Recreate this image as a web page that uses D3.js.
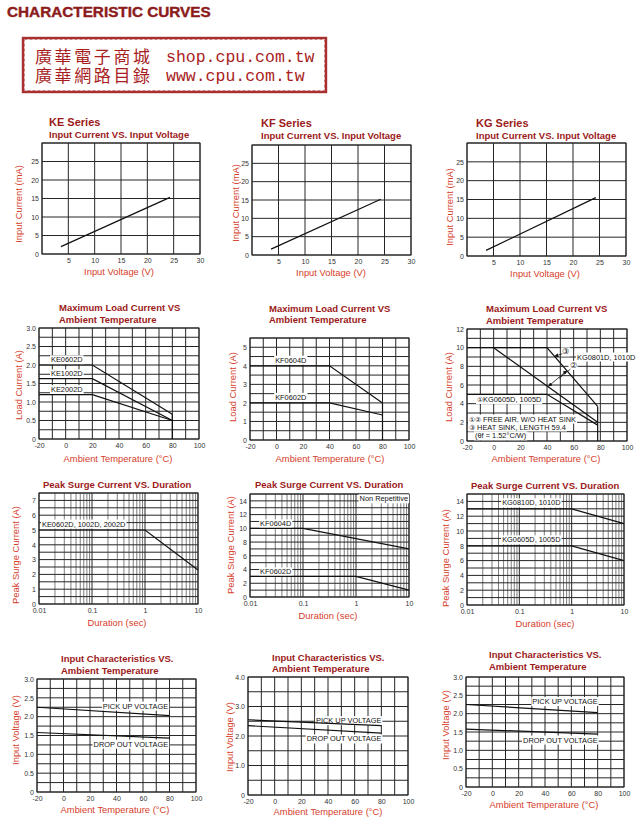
<!DOCTYPE html>
<html>
<head>
<meta charset="utf-8">
<script src="https://cdn.jsdelivr.net/npm/d3@7"></script>
<style>
  body { margin: 0; background: #fff; }
  svg { display: block; }
</style>
</head>
<body>
<div id="chart"></div>
<script>
// ---- values ----
// row 1: input current (mA) vs input voltage (V)
const inputVolt = [3.6, 24.3];
const keInputCurrent = [2.0, 15.3];
const kfInputCurrent = [1.6, 15.2];
const kgInputCurrent = [1.5, 15.5];

// row 2: max load current (A) vs ambient temperature (C)
const keLoadTemp = [-20, 20, 80];
const ke0602Load = [2.0, 2.0, 0.67];
const ke1002Load = [1.63, 1.63, 0.5];
const ke2002Load = [1.2, 1.2, 0.5];
const kfLoadTemp = [-20, 40, 80];
const kf0604Load = [4, 4, 2];
const kf0602Load = [2, 2, 1.35];
const kgHeatSinkTemp = [-20, 40, 78];
const kgHeatSinkLoad = [10, 10, 3.7];   // (3) KG0801D, 1010D with heat sink
const kgFreeAir10Temp = [0, 78];
const kgFreeAir10Load = [10, 2.0];      // (2) KG0801D, 1010D free air
const kgFreeAir05Temp = [-20, 40, 78];
const kgFreeAir05Load = [5, 5, 1.7];    // (1) KG0605D, 1005D

// row 3: peak surge current (A) vs duration (sec)
const keSurgeDur = [0.01, 1, 10];
const keSurge = [5, 5, 2.3];
const kf0604SurgeDur = [0.01, 0.1, 10];
const kf0604Surge = [10, 10, 7];
const kf0602SurgeDur = [0.01, 1, 10];
const kf0602Surge = [3, 3, 1.0];
const kgSurgeDur = [0.01, 1, 10];
const kg1010Surge = [13, 13, 11];
const kg1005Surge = [8, 8, 6];

// row 4: input voltage (V) vs ambient temperature (C)
const icTemp = [-20, 80];
const kePickUp = [2.25, 2.03];
const keDropOut = [1.58, 1.43];
const kfPickUp = [2.55, 2.35];
const kfDropOut = [2.35, 2.1];
const kgPickUp = [2.25, 2.03];
const kgDropOut = [1.58, 1.44];

// tick labels
const voltTicks = [5, 10, 15, 20, 25, 30];
const mATicks = [0, 5, 10, 15, 20, 25];
const tempTicks = [-20, 0, 20, 40, 60, 80, 100];
const halfAmpTicks = [0, 0.5, 1.0, 1.5, 2.0, 2.5, 3.0];
const kfLoadTicks = [0, 1, 2, 3, 4, 5];
const kgLoadTicks = [0, 2, 4, 6, 8, 10, 12];
const durTicks = [0.01, 0.1, 1, 10];
const keSurgeTicks = [0, 1, 2, 3, 4, 5, 6, 7];
const surgeTicks = [0, 2, 4, 6, 8, 10, 12, 14];
const kfVoltTicks = [0, 1.0, 2.0, 3.0, 4.0];

// ---- styles ----
const FONT = "Liberation Sans, Arial, sans-serif";
const TITLE = "#9c1a1a";
const AXIS = "#d6402b";
const GRID = "#262626";

const svg = d3.select("#chart").append("svg")
    .attr("width", 640)
    .attr("height", 827);

svg.append("defs").append("marker")
    .attr("id", "ah")
    .attr("viewBox", "0 0 6 6")
    .attr("refX", 6).attr("refY", 3)
    .attr("markerWidth", 5).attr("markerHeight", 5)
    .attr("orient", "auto-start-reverse")
    .append("path").attr("d", "M0,0 L6,3 L0,6 z").attr("fill", "#111");

// --- header + stamp ---
svg.append("text")
    .attr("x", 7).attr("y", 17)
    .attr("font-family", FONT).attr("font-weight", "bold").attr("font-size", 15.3)
    .attr("fill", "#8c1b1b").attr("stroke", "#8c1b1b").attr("stroke-width", 0.4)
    .text("CHARACTERISTIC CURVES");

svg.append("rect")
    .attr("x", 23).attr("y", 38).attr("width", 303).attr("height", 54)
    .attr("fill", "none").attr("stroke", "#a83030").attr("stroke-width", 2.4);
svg.append("rect")
    .attr("x", 24.5).attr("y", 39.5).attr("width", 300).attr("height", 51)
    .attr("fill", "none").attr("stroke", "#c26a6a").attr("stroke-width", 0.8)
    .attr("stroke-dasharray", "3 2");

const stampZh = ["廣華電子商城", "廣華網路目錄"];
const stampUrl = ["shop.cpu.com.tw", "www.cpu.com.tw"];
svg.append("text")
    .attr("font-family", "Noto Sans CJK TC").attr("font-size", 17)
    .attr("letter-spacing", 2.6).attr("fill", "#a81d1d")
    .selectAll("tspan").data(stampZh).join("tspan")
    .attr("x", 35).attr("y", (d, i) => 63 + i * 19)
    .text(d => d);
svg.append("text")
    .attr("font-family", "Liberation Mono, DejaVu Sans Mono, monospace").attr("font-size", 16.5)
    .attr("fill", "#a81d1d")
    .selectAll("tspan").data(stampUrl).join("tspan")
    .attr("x", 166).attr("y", (d, i) => 62 + i * 19)
    .text(d => d);

// --- helpers ---
const panel = (p) => {
    const g = svg.append("g");
    const x = (p.log ? d3.scaleLog() : d3.scaleLinear()).domain(p.xDom).range(p.xr);
    const y = d3.scaleLinear().domain(p.yDom).range(p.yr);

    const xGrid = p.log ? x.ticks() : d3.range(p.xDom[0], p.xDom[1] + 1e-9, p.xStep);
    const yGrid = d3.range(p.yDom[0], p.yDom[1] + 1e-9, p.yStep);

    const grid = g.append("g").attr("stroke-width", 1);
    grid.selectAll(".gx").data(xGrid).join("line").attr("class", "gx")
        .attr("x1", d => x(d)).attr("x2", d => x(d))
        .attr("y1", p.yr[0]).attr("y2", p.yr[1])
        .attr("stroke", d => p.log && Math.abs(Math.log10(d) % 1) > 1e-6 ? "#7d7d7d" : GRID);
    grid.selectAll(".gy").data(yGrid).join("line").attr("class", "gy")
        .attr("x1", p.xr[0]).attr("x2", p.xr[1])
        .attr("y1", d => y(d)).attr("y2", d => y(d))
        .attr("stroke", GRID);

    g.append("g").attr("transform", `translate(0,${p.yr[0]})`)
        .call(d3.axisBottom(x).tickValues(p.xTicks).tickSize(0).tickPadding(4)
            .tickFormat(p.xFmt || (d => d)));
    g.append("g").attr("transform", `translate(${p.xr[0]},0)`)
        .call(d3.axisLeft(y).tickValues(p.yTicks).tickSize(0).tickPadding(3)
            .tickFormat(p.yFmt || (d => d)));
    g.selectAll(".domain").remove();
    g.selectAll(".tick text")
        .attr("font-family", FONT).attr("font-size", 7).attr("fill", "#333");

    g.append("rect")
        .attr("x", p.xr[0]).attr("y", p.yr[1])
        .attr("width", p.xr[1] - p.xr[0]).attr("height", p.yr[0] - p.yr[1])
        .attr("fill", "none").attr("stroke", GRID).attr("stroke-width", 1);

    // titles
    p.title.forEach((t, i) => {
        svg.append("text").attr("x", p.tx).attr("y", p.ty[i])
            .attr("font-family", FONT).attr("font-weight", "bold")
            .attr("font-size", t.size || 9.5).attr("fill", TITLE).text(t.text);
    });
    // axis labels
    svg.append("text").attr("x", p.xl[0]).attr("y", p.xl[1])
        .attr("text-anchor", "middle").attr("dominant-baseline", "central")
        .attr("font-family", FONT).attr("font-size", 9.4).attr("fill", AXIS).text(p.xLabel);
    svg.append("text")
        .attr("transform", `translate(${p.yl[0]},${p.yl[1]}) rotate(-90)`)
        .attr("text-anchor", "middle").attr("dominant-baseline", "central")
        .attr("font-family", FONT).attr("font-size", 9.4).attr("fill", AXIS).text(p.yLabel);

    return { g, x, y };
};

const curve = (pn, xs, ys) => {
    pn.g.append("path")
        .datum(d3.zip(xs, ys))
        .attr("d", d3.line().x(d => pn.x(d[0])).y(d => pn.y(d[1])))
        .attr("fill", "none").attr("stroke", "#111").attr("stroke-width", 1.2);
};

const tag = (pn, xv, yv, text, anchor = "start", size = 7.4) => {
    const t = pn.g.append("text")
        .attr("x", pn.x(xv)).attr("y", pn.y(yv))
        .attr("text-anchor", anchor).attr("dominant-baseline", "central")
        .attr("font-family", FONT).attr("font-size", size).attr("fill", "#111")
        .text(text);
    const b = t.node().getBBox();
    pn.g.insert("rect", () => t.node())
        .attr("x", b.x - 1).attr("y", b.y).attr("width", b.width + 2).attr("height", b.height)
        .attr("fill", "#fff");
};

const oneDec = d => d === 0 ? "0" : d3.format(".1f")(d);

// ---- row 1 ----
const row1 = (xr, yr, tx, ty, xl, yl, name) => panel({
    xr, yr, xDom: [0, 30], yDom: [0, 30], xStep: 5, yStep: 5,
    xTicks: voltTicks, yTicks: mATicks,
    title: [{ text: name, size: 11 }, { text: "Input Current VS. Input Voltage" }],
    tx, ty, xl, yl, xLabel: "Input Voltage (V)", yLabel: "Input Current (mA)"
});
const keIn = row1([42, 200], [254, 143], 49, [126, 138], [119, 271], [18, 204], "KE Series");
curve(keIn, inputVolt, keInputCurrent);
const kfIn = row1([252, 411], [255, 145], 261, [127, 139], [331, 272], [235, 203], "KF Series");
curve(kfIn, inputVolt, kfInputCurrent);
const kgIn = row1([467, 626], [256, 143], 476, [127, 139], [545, 273], [449, 207], "KG Series");
curve(kgIn, inputVolt, kgInputCurrent);

// ---- row 2 ----
const loadTitle = [{ text: "Maximum Load Current VS" }, { text: "Ambient Temperature" }];
const keLoad = panel({
    xr: [39, 199], yr: [439, 328], xDom: [-20, 100], yDom: [0, 3], xStep: 10, yStep: 0.25,
    xTicks: tempTicks, yTicks: halfAmpTicks, yFmt: oneDec,
    title: loadTitle, tx: 59, ty: [311, 323], xl: [118, 458], yl: [18, 385],
    xLabel: "Ambient Temperature (°C)", yLabel: "Load Current (A)"
});
tag(keLoad, -11, 2.14, "KE0602D");
tag(keLoad, -11, 1.76, "KE1002D");
tag(keLoad, -11, 1.33, "KE2002D");
curve(keLoad, keLoadTemp, ke0602Load);
curve(keLoad, keLoadTemp, ke1002Load);
curve(keLoad, keLoadTemp, ke2002Load);
curve(keLoad, [keLoadTemp[2], keLoadTemp[2]], [ke0602Load[2], 0]);

const kfLoad = panel({
    xr: [250, 409], yr: [440, 338], xDom: [-20, 100], yDom: [0, 5.5], xStep: 10, yStep: 0.5,
    xTicks: tempTicks, yTicks: kfLoadTicks,
    title: loadTitle, tx: 269, ty: [312, 323], xl: [330, 458], yl: [232, 387],
    xLabel: "Ambient Temperature (°C)", yLabel: "Load Current (A)"
});
tag(kfLoad, -1, 4.3, "KF0604D");
tag(kfLoad, -1, 2.3, "KF0602D");
curve(kfLoad, kfLoadTemp, kf0604Load);
curve(kfLoad, kfLoadTemp, kf0602Load);
curve(kfLoad, [kfLoadTemp[2], kfLoadTemp[2]], [kf0604Load[2], 0]);

const kgLoad = panel({
    xr: [467, 627], yr: [441, 329], xDom: [-20, 100], yDom: [0, 12], xStep: 10, yStep: 1,
    xTicks: tempTicks, yTicks: kgLoadTicks,
    title: loadTitle, tx: 486, ty: [312, 324], xl: [546, 458], yl: [448, 387],
    xLabel: "Ambient Temperature (°C)", yLabel: "Load Current (A)"
});
tag(kgLoad, -12.5, 4.45, "\u2460KG0605D, 1005D");
tag(kgLoad, -18.5, 2.35, "\u2460\u2461 FREE AIR, W/O HEAT SINK");
tag(kgLoad, -18.5, 1.5, "\u2462 HEAT SINK, LENGTH 59.4");
tag(kgLoad, -14, 0.55, "(\u03b8f = 1.52°C/W)");
tag(kgLoad, 62.5, 9.0, "KG0801D, 1010D");
tag(kgLoad, 54, 9.55, "\u2462", "middle", 8);
tag(kgLoad, 59.5, 8.1, "\u2461", "middle", 8);
curve(kgLoad, kgHeatSinkTemp, kgHeatSinkLoad);
curve(kgLoad, kgFreeAir10Temp, kgFreeAir10Load);
curve(kgLoad, kgFreeAir05Temp, kgFreeAir05Load);
curve(kgLoad, [kgHeatSinkTemp[2], kgHeatSinkTemp[2]], [kgHeatSinkLoad[2], 0]);
// leader arrows
kgLoad.g.append("line")
    .attr("x1", kgLoad.x(51.5)).attr("y1", kgLoad.y(9.35))
    .attr("x2", kgLoad.x(45.5)).attr("y2", kgLoad.y(9.05))
    .attr("stroke", "#111").attr("stroke-width", 0.8).attr("marker-end", "url(#ah)");
kgLoad.g.append("line")
    .attr("x1", kgLoad.x(55)).attr("y1", kgLoad.y(7.55))
    .attr("x2", kgLoad.x(41)).attr("y2", kgLoad.y(5.85))
    .attr("stroke", "#111").attr("stroke-width", 0.8)
    .attr("marker-start", "url(#ah)").attr("marker-end", "url(#ah)");
kgLoad.g.append("line")
    .attr("x1", kgLoad.x(57.5)).attr("y1", kgLoad.y(7.7))
    .attr("x2", kgLoad.x(49)).attr("y2", kgLoad.y(6.7))
    .attr("stroke", "#111").attr("stroke-width", 0.8);

// ---- row 3 ----
const surgeTitle = [{ text: "Peak Surge Current VS. Duration" }];
const keSurgeP = panel({
    log: true, xr: [39, 198], yr: [604, 493], xDom: [0.01, 10], yDom: [0, 7.5], yStep: 0.5,
    xTicks: durTicks, yTicks: keSurgeTicks,
    title: surgeTitle, tx: 43, ty: [488], xl: [117, 622], yl: [15, 555],
    xLabel: "Duration (sec)", yLabel: "Peak Surge Current (A)"
});
tag(keSurgeP, 0.0114, 5.4, "KE0602D, 1002D, 2002D");
curve(keSurgeP, keSurgeDur, keSurge);

const kfSurgeP = panel({
    log: true, xr: [250, 409], yr: [597, 494], xDom: [0.01, 10], yDom: [0, 15], yStep: 1,
    xTicks: durTicks, yTicks: surgeTicks,
    title: surgeTitle, tx: 255, ty: [488], xl: [328, 615], yl: [230, 545],
    xLabel: "Duration (sec)", yLabel: "Peak Surge Current (A)"
});
tag(kfSurgeP, 9.6, 14.3, "Non Repetitive", "end");
tag(kfSurgeP, 0.0155, 10.65, "KF0604D");
tag(kfSurgeP, 0.0155, 3.65, "KF0602D");
curve(kfSurgeP, kf0604SurgeDur, kf0604Surge);
curve(kfSurgeP, kf0602SurgeDur, kf0602Surge);

const kgSurgeP = panel({
    log: true, xr: [467, 624], yr: [605, 494], xDom: [0.01, 10], yDom: [0, 15], yStep: 1,
    xTicks: durTicks, yTicks: surgeTicks,
    title: surgeTitle, tx: 471, ty: [489], xl: [545, 623], yl: [445, 558],
    xLabel: "Duration (sec)", yLabel: "Peak Surge Current (A)"
});
tag(kgSurgeP, 0.047, 13.8, "KG0810D, 1010D");
tag(kgSurgeP, 0.047, 8.8, "KG0605D, 1005D");
curve(kgSurgeP, kgSurgeDur, kg1010Surge);
curve(kgSurgeP, kgSurgeDur, kg1005Surge);

// ---- row 4 ----
const icTitle = [{ text: "Input Characteristics VS." }, { text: "Ambient Temperature" }];
const keIc = panel({
    xr: [37, 196], yr: [792, 679], xDom: [-20, 100], yDom: [0, 3], xStep: 10, yStep: 0.25,
    xTicks: tempTicks, yTicks: halfAmpTicks, yFmt: oneDec,
    title: icTitle, tx: 61, ty: [662, 674], xl: [115, 809], yl: [15, 730],
    xLabel: "Ambient Temperature (°C)", yLabel: "Input Voltage (V)"
});
tag(keIc, 79, 2.28, "PICK UP VOLTAGE", "end");
tag(keIc, 79, 1.27, "DROP OUT VOLTAGE", "end");
curve(keIc, icTemp, kePickUp);
curve(keIc, icTemp, keDropOut);

const kfIc = panel({
    xr: [248, 408], yr: [795, 677], xDom: [-20, 100], yDom: [0, 4], xStep: 10, yStep: 0.5,
    xTicks: tempTicks, yTicks: kfVoltTicks, yFmt: oneDec,
    title: icTitle, tx: 272, ty: [661, 672], xl: [328, 811], yl: [229, 737],
    xLabel: "Ambient Temperature (°C)", yLabel: "Input Voltage (V)"
});
tag(kfIc, 80, 2.52, "PICK UP VOLTAGE", "end");
tag(kfIc, 80, 1.9, "DROP OUT VOLTAGE", "end");
curve(kfIc, icTemp, kfPickUp);
curve(kfIc, icTemp, kfDropOut);

const kgIc = panel({
    xr: [466, 624], yr: [787, 677], xDom: [-20, 100], yDom: [0, 3], xStep: 10, yStep: 0.25,
    xTicks: tempTicks, yTicks: halfAmpTicks, yFmt: oneDec,
    title: icTitle, tx: 489, ty: [658, 670], xl: [544, 804], yl: [445, 725],
    xLabel: "Ambient Temperature (°C)", yLabel: "Input Voltage (V)"
});
tag(kgIc, 80, 2.33, "PICK UP VOLTAGE", "end");
tag(kgIc, 80, 1.28, "DROP OUT VOLTAGE", "end");
curve(kgIc, icTemp, kgPickUp);
curve(kgIc, icTemp, kgDropOut);
</script>
</body>
</html>
